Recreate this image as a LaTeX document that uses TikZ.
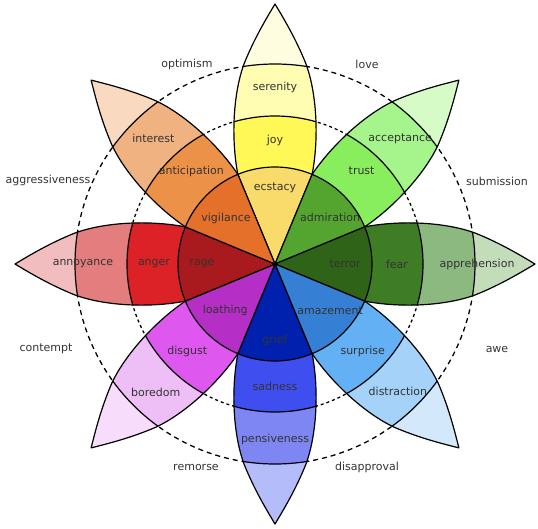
\documentclass[tikz,border=0pt]{standalone}
\usepackage{fontspec}
\setmainfont{DejaVu Sans}
\usepackage{tikz}
\usetikzlibrary{calc}
\usepackage{xcolor}
% joy
\definecolor{ecstasyC}{HTML}{F9DB6C}
\definecolor{joyC}{HTML}{FFF856}
\definecolor{serenityC}{HTML}{FFFDB2}
\definecolor{joytipC}{HTML}{FFFDE0}
% trust
\definecolor{admirationC}{HTML}{54A530}
\definecolor{trustC}{HTML}{88EE5E}
\definecolor{acceptanceC}{HTML}{A5F48C}
\definecolor{trusttipC}{HTML}{D6FBC6}
% fear
\definecolor{terrorC}{HTML}{2F6418}
\definecolor{fearC}{HTML}{3E7D26}
\definecolor{apprehensionC}{HTML}{8CB97F}
\definecolor{feartipC}{HTML}{C3DDBA}
% surprise
\definecolor{amazementC}{HTML}{3580D4}
\definecolor{surpriseC}{HTML}{63B0F5}
\definecolor{distractionC}{HTML}{A5D2F8}
\definecolor{surprisetipC}{HTML}{D3E8FB}
% sadness
\definecolor{griefC}{HTML}{0021AE}
\definecolor{sadnessC}{HTML}{3F4FEF}
\definecolor{pensivenessC}{HTML}{7D86F2}
\definecolor{sadnesstipC}{HTML}{B4BCFA}
% disgust
\definecolor{loathingC}{HTML}{B52EC6}
\definecolor{disgustC}{HTML}{DE58F0}
\definecolor{boredomC}{HTML}{EEBEF6}
\definecolor{disgusttipC}{HTML}{F7DDFB}
% anger
\definecolor{rageC}{HTML}{A81A1E}
\definecolor{angerC}{HTML}{DC2226}
\definecolor{annoyanceC}{HTML}{E47E7E}
\definecolor{angertipC}{HTML}{F1BDBE}
% anticipation
\definecolor{vigilanceC}{HTML}{E5702A}
\definecolor{anticipationC}{HTML}{EC9248}
\definecolor{interestC}{HTML}{F1B281}
\definecolor{anticipationtipC}{HTML}{F9DAC0}
\tikzset{
  petaledge/.style={draw=black,line width=1.2pt,line join=round},
  ringline/.style={draw=black,line width=1.2pt},
  outerring/.style={draw=black,line width=1.3pt,dash pattern=on 5pt off 4pt},
  innerring/.style={draw=black,line width=1.3pt,dash pattern=on 3pt off 3pt},
  emo/.style={font=\fontsize{11}{13}\selectfont,text=black!80,inner sep=0pt},
  dyad/.style={emo},
}
\newcommand{\petalpath}{(0,0) -- (22.5:97)
  .. controls (125,44) and (170,42) .. (200,31)
  .. controls (225,21) and (245,9) .. (260,0)
  .. controls (245,-9) and (225,-21) .. (200,-31)
  .. controls (170,-42) and (125,-44) .. (-22.5:97) -- cycle}

\begin{document}
\begin{tikzpicture}[x=1pt,y=1pt]
    \useasboundingbox (-275,-264) rectangle (263,264);
    % dashed rings behind the petals
    \draw[outerring] (0,0) circle[radius=200];
    \draw[innerring] (0,0) circle[radius=148];
    % petals
    \foreach \ang/\ci/\cm/\co/\ct in {
        90/ecstasyC/joyC/serenityC/joytipC,
        45/admirationC/trustC/acceptanceC/trusttipC,
        0/terrorC/fearC/apprehensionC/feartipC,
        -45/amazementC/surpriseC/distractionC/surprisetipC,
        -90/griefC/sadnessC/pensivenessC/sadnesstipC,
        -135/loathingC/disgustC/boredomC/disgusttipC,
        180/rageC/angerC/annoyanceC/angertipC,
        135/vigilanceC/anticipationC/interestC/anticipationtipC}{
      \begin{scope}[rotate=\ang]
        \begin{scope}
          \clip \petalpath;
          \fill[\ct] (0,0) circle[radius=270];
          \fill[\co] (0,0) circle[radius=200];
          \fill[\cm] (0,0) circle[radius=148];
          \fill[\ci] (0,0) circle[radius=97];
          \draw[ringline] (0,0) circle[radius=148] (0,0) circle[radius=200];
        \end{scope}
        \draw[petaledge] \petalpath;
      \end{scope}
    }
    \draw[ringline] (0,0) circle[radius=97];
    % emotion labels
    \foreach \ang/\r/\name in {
        90/76/ecstacy, 90/124/joy, 90/177/serenity,
        40/72/admiration, 47/127/trust, 45/177/acceptance,
        0/70/terror, 0/122/fear, 0/202/apprehension,
        -40/72/amazement, -45/124/surprise, -46/177/distraction,
        -90/76/grief, -90/122/sadness, -90/175/pensiveness,
        -137/68/loathing, -135/124/disgust, -133/175/boredom,
        180/73/rage, 180/121/anger, 180/192/annoyance,
        137/67/vigilance, 132/125/anticipation, 134/175/interest}
      \node[emo] (\name) at (\ang:\r) {\name};
    % dyads
    \node[dyad] (optimism) at (-88,200) {optimism};
    \node[dyad] (love) at (92,200) {love};
    \node[dyad] (aggressiveness) at (-227,84) {aggressiveness};
    \node[dyad] (submission) at (222,83) {submission};
    \node[dyad] (contempt) at (-229,-85) {contempt};
    \node[dyad] (awe) at (222,-85) {awe};
    \node[dyad] (remorse) at (-79,-203) {remorse};
    \node[dyad] (disapproval) at (92,-203) {disapproval};
\end{tikzpicture}
\end{document}
